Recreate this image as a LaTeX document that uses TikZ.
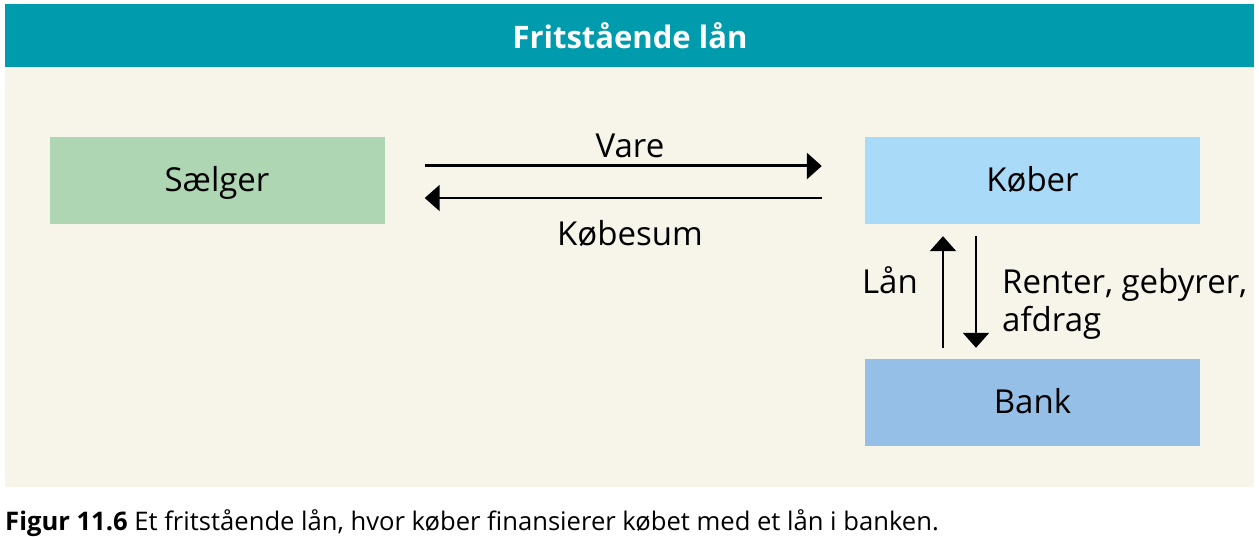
\documentclass[tikz,border=0pt]{standalone}
\usepackage{fontspec}
\setmainfont{Open Sans}
\usepackage{tikz}
\usetikzlibrary{arrows.meta, positioning, calc}
\definecolor{titleteal}{HTML}{009BAD}
\definecolor{panelbg}{HTML}{F7F4E9}
\definecolor{sellergreen}{HTML}{AED6B3}
\definecolor{buyerblue}{HTML}{A9DBF8}
\definecolor{bankblue}{HTML}{96BFE7}

\tikzset{
  party/.style={minimum width=335pt, minimum height=87pt, inner sep=0pt, text height=22pt, text depth=0pt, font=\fontsize{33}{38}\selectfont},
  flow/.style={-{Triangle[length=15pt,width=26pt]}, line width=2.3pt},
  flowtext/.style={font=\fontsize{33}{38}\selectfont, inner sep=0pt}
}

\begin{document}
\begin{tikzpicture}[x=1pt,y=-1pt]
            % canvas and frame
            \useasboundingbox (0,0) rectangle (1259,537);
            \fill[white] (0,0) rectangle (1259,537);
            \fill[panelbg] (5,67) rectangle (1254,487);
            \fill[titleteal] (5,4) rectangle (1254,67);
            \node[text=white, font=\fontsize{31}{36}\selectfont\bfseries] (title) at (630,36) {Fritstående lån};

            % the three parties
            \node[party, fill=sellergreen] (saelger) at (217,180.5) {Sælger};
            \node[party, fill=buyerblue] (koeber) at (1032.5,180.5) {Køber};
            \node[party, fill=bankblue] (bank) at (1032.5,402.5) {Bank};

            % goods and payment
            \draw[flow, line width=3pt, shorten <=40pt, shorten >=43pt] ([yshift=14.5pt]saelger.east) -- ([yshift=14.5pt]koeber.west);
            \draw[flow, line width=2pt, shorten <=43pt, shorten >=40pt] ([yshift=-17.5pt]koeber.west) -- ([yshift=-17.5pt]saelger.east);

            \node[flowtext, anchor=base] (vare) at (630,158) {Vare};
            \node[flowtext, anchor=base] (koebesum) at (630,246) {Købesum};

            % loan and repayment
            \draw[flow, shorten <=11pt, shorten >=12pt] ([xshift=-89.5pt]bank.north) -- ([xshift=-89.5pt]koeber.south);
            \draw[flow, shorten <=12pt, shorten >=11pt] ([xshift=-56.5pt]koeber.south) -- ([xshift=-56.5pt]bank.north);

            \node[flowtext, anchor=base east] (laan) at (918,294) {Lån};
            \node[flowtext, anchor=base west, align=left] (renter) at (1002,332) {Renter, gebyrer,\\afdrag};

            % caption
            \node[anchor=base west, inner sep=0pt, font=\fontsize{25.6}{30}\selectfont] (caption) at (5,530)
              {\textbf{Figur 11.6} Et fritstående lån, hvor køber finansierer købet med et lån i banken.};
          \end{tikzpicture}
\end{document}
